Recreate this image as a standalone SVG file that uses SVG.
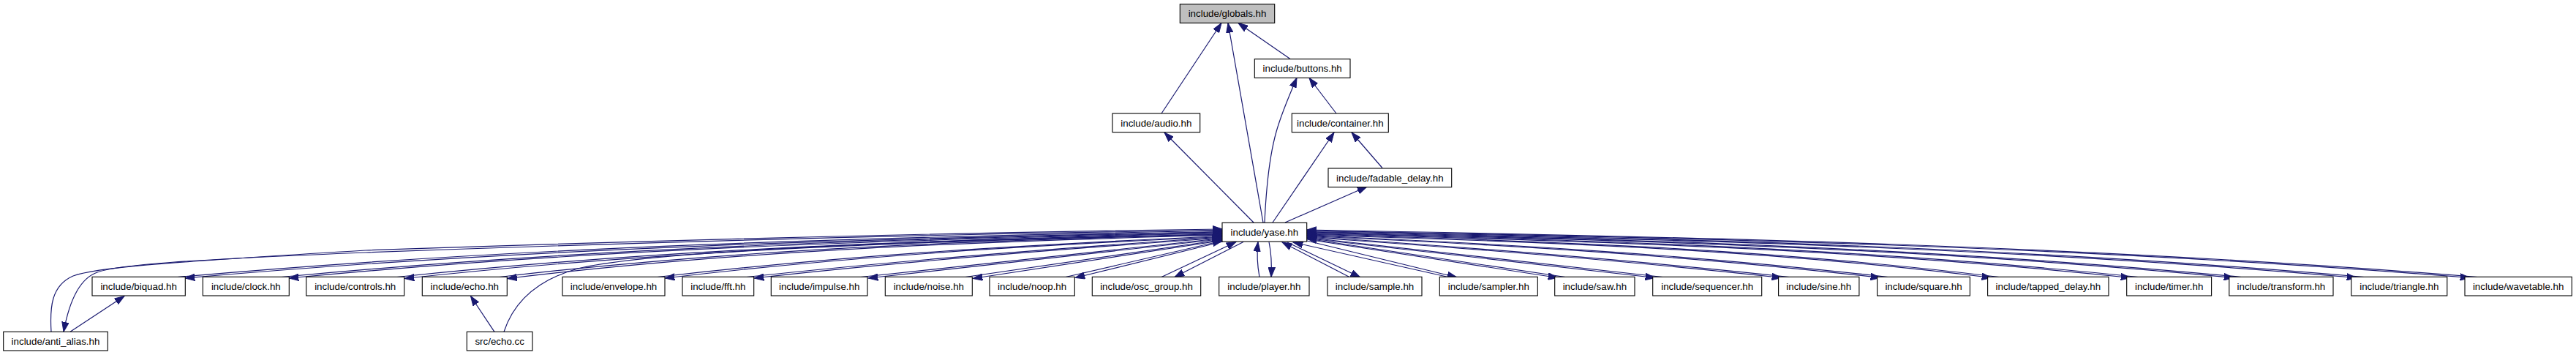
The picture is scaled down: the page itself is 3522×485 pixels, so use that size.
<svg xmlns="http://www.w3.org/2000/svg" width="3522" height="485" viewBox="0 0 3522 485">
<style>
.node rect{fill:#ffffff;stroke:#000000;stroke-width:1.1}
.node.base rect{fill:#bfbfbf}
.node text{font-family:"Liberation Sans",Arial,sans-serif;font-size:13.33px;fill:#000000;text-anchor:middle}
#edges path{fill:none;stroke:#191970;stroke-width:1.2;marker-end:url(#arr)}
</style>
<defs>
<marker id="arr" markerUnits="userSpaceOnUse" viewBox="0 0 14 10" refX="13.3" refY="5" markerWidth="14" markerHeight="10" orient="auto">
<path d="M0,0.3 L13.3,5 L0,9.7 z" fill="#191970" stroke="#191970" stroke-width="1"/>
</marker>
</defs>
<rect x="0" y="0" width="3522" height="485" fill="#ffffff"/>
<g id="edges">
<path d="M1588,155 L1670,31.5"/>
<path d="M1727,304 L1679,31.5"/>
<path d="M1764,80.5 L1693,31.5"/>
<path d="M1729,304 C1731,260 1735,215 1745,180 C1752,155 1762,132 1773,106.5"/>
<path d="M1827,155 L1790,106.5"/>
<path d="M1714,304 L1592,181"/>
<path d="M1740,304 L1824,181"/>
<path d="M1890,229.5 L1848,181"/>
<path d="M1757,304 L1869,255"/>
<path d="M70,453.3 C68,420 70,390 100,377 C130,366 200,360 500,342 C900,328 1300,318 1671,313"/>
<path d="M1671,314.5 C1300,319.5 900,330 500,345 C250,355 160,362 133,372 C110,380 95,410 87,453.3"/>
<path d="M96,453.3 L170,404.5"/>
<path d="M1671,316.5 C1198,326 726,338 253,380"/>
<path d="M243,378.5 C719,336 1195,324.5 1671,315"/>
<path d="M1671,318 C1246,327 820,339 395,380"/>
<path d="M385,378.5 C814,337.5 1242,326 1671,317"/>
<path d="M1671,319.5 C1298,328.7 926,339.8 553,380.5"/>
<path d="M543,378.5 C919,338.5 1295,327.5 1671,318.5"/>
<path d="M1671,321 C1345,330 1019,341 693.5,380.5"/>
<path d="M683,378.5 C1012,339.5 1342,328.8 1671,320"/>
<path d="M676,453.3 L643.5,404.5"/>
<path d="M689,453.3 C700,420 725,385 790,367 C880,345 1250,326 1671,321.5"/>
<path d="M1671,323.5 C1417,334.8 1163,349.9 909,380"/>
<path d="M899,378.5 C1156,348.6 1414,333.7 1671,322.5"/>
<path d="M1671,325 C1458,339.7 1244,356.2 1031,380"/>
<path d="M1021,378.5 C1238,354.9 1454,338.5 1671,324"/>
<path d="M1671,326.5 L1187,380"/>
<path d="M1177,378.5 L1671,325.5"/>
<path d="M1671,328.5 L1330,380.5"/>
<path d="M1320,378.5 L1671,327.5"/>
<path d="M1672,330 L1470,379.5"/>
<path d="M1457,378.5 L1671,329"/>
<path d="M1588,378.5 L1690,330.5"/>
<path d="M1700,330.5 L1606,378.5"/>
<path d="M1722,378.5 C1719,362 1718,348 1720,330.5"/>
<path d="M1735,330.5 C1738,345 1739,360 1738,378.5"/>
<path d="M1845,378.5 L1753,331"/>
<path d="M1760,331 L1860,379"/>
<path d="M1980,378.5 L1768,331"/>
<path d="M1787,329 L1992,379"/>
<path d="M1787,327 L2130,379.5"/>
<path d="M2140,378.5 L1787,326"/>
<path d="M1787,325.5 L2263,379.5"/>
<path d="M2273,378.5 L1787,324.5"/>
<path d="M1787,324 C2003,338.8 2220,355.5 2436,379.5"/>
<path d="M2446,378.5 C2226,354.5 2007,337.8 1787,323"/>
<path d="M1787,322.5 C2048,333.9 2310,349.1 2571,379.5"/>
<path d="M2581,378.5 C2316,348.1 2052,332.9 1787,321.5"/>
<path d="M1787,321 C2099,329.8 2411,340.5 2723,379.5"/>
<path d="M2733,378.5 C2418,339.5 2102,328.8 1787,320"/>
<path d="M1787,319.5 C2162,328.5 2538,339.5 2913,379.5"/>
<path d="M2923,378.5 C2544,338.5 2166,327.5 1787,318.5"/>
<path d="M1787,318 C2209,327.2 2632,338.5 3054,379.5"/>
<path d="M3064,378.5 C2638,337.5 2213,326.2 1787,317"/>
<path d="M1787,316.5 C2265,326 2744,337.5 3222,379.5"/>
<path d="M3232,378.5 C2750,336.5 2269,325 1787,315.5"/>
<path d="M1787,315 C2317,324.7 2847,336.5 3377,379.5"/>
<path d="M3387,378.5 C2854,335.5 2320,323.7 1787,314"/>
</g>
<g id="node-globals" class="node base"><rect x="1613.3" y="5.7" width="129.4" height="25.7"/><text x="1678" y="23.2">include/globals.hh</text></g>
<g id="node-buttons" class="node"><rect x="1715.3" y="80.7" width="130.7" height="25.7"/><text x="1780.65" y="98.2">include/buttons.hh</text></g>
<g id="node-audio" class="node"><rect x="1521" y="155" width="119.7" height="25.7"/><text x="1580.85" y="172.5">include/audio.hh</text></g>
<g id="node-container" class="node"><rect x="1766.3" y="155" width="132" height="25.7"/><text x="1832.3" y="172.5">include/container.hh</text></g>
<g id="node-fadable_delay" class="node"><rect x="1816" y="230" width="168.7" height="25.7"/><text x="1900.35" y="247.5">include/fadable_delay.hh</text></g>
<g id="node-yase" class="node"><rect x="1671" y="304.3" width="115.7" height="25.7"/><text x="1728.85" y="321.8">include/yase.hh</text></g>
<g id="node-anti_alias" class="node"><rect x="4.7" y="453.3" width="142.6" height="25.7"/><text x="76" y="470.8">include/anti_alias.hh</text></g>
<g id="node-biquad" class="node"><rect x="126" y="378.3" width="127.3" height="25.7"/><text x="189.65" y="395.8">include/biquad.hh</text></g>
<g id="node-clock" class="node"><rect x="277.3" y="378.3" width="118" height="25.7"/><text x="336.3" y="395.8">include/clock.hh</text></g>
<g id="node-controls" class="node"><rect x="418.7" y="378.3" width="134" height="25.7"/><text x="485.7" y="395.8">include/controls.hh</text></g>
<g id="node-echo_hh" class="node"><rect x="577.3" y="378.3" width="116" height="25.7"/><text x="635.3" y="395.8">include/echo.hh</text></g>
<g id="node-echo_cc" class="node"><rect x="638.3" y="453.3" width="89.7" height="25.7"/><text x="683.15" y="470.8">src/echo.cc</text></g>
<g id="node-envelope" class="node"><rect x="769" y="378.3" width="140" height="25.7"/><text x="839" y="395.8">include/envelope.hh</text></g>
<g id="node-fft" class="node"><rect x="933" y="378.3" width="97.7" height="25.7"/><text x="981.85" y="395.8">include/fft.hh</text></g>
<g id="node-impulse" class="node"><rect x="1054.3" y="378.3" width="131.7" height="25.7"/><text x="1120.15" y="395.8">include/impulse.hh</text></g>
<g id="node-noise" class="node"><rect x="1210.3" y="378.3" width="119" height="25.7"/><text x="1269.8" y="395.8">include/noise.hh</text></g>
<g id="node-noop" class="node"><rect x="1353" y="378.3" width="116.3" height="25.7"/><text x="1411.15" y="395.8">include/noop.hh</text></g>
<g id="node-osc_group" class="node"><rect x="1493.3" y="378.3" width="148.4" height="25.7"/><text x="1567.5" y="395.8">include/osc_group.hh</text></g>
<g id="node-player" class="node"><rect x="1666.7" y="378.3" width="123.3" height="25.7"/><text x="1728.35" y="395.8">include/player.hh</text></g>
<g id="node-sample" class="node"><rect x="1815" y="378.3" width="129" height="25.7"/><text x="1879.5" y="395.8">include/sample.hh</text></g>
<g id="node-sampler" class="node"><rect x="1968.3" y="378.3" width="134" height="25.7"/><text x="2035.3" y="395.8">include/sampler.hh</text></g>
<g id="node-saw" class="node"><rect x="2125.7" y="378.3" width="109.3" height="25.7"/><text x="2180.35" y="395.8">include/saw.hh</text></g>
<g id="node-sequencer" class="node"><rect x="2259.7" y="378.3" width="149" height="25.7"/><text x="2334.2" y="395.8">include/sequencer.hh</text></g>
<g id="node-sine" class="node"><rect x="2431.6" y="378.3" width="110.3" height="25.7"/><text x="2486.75" y="395.8">include/sine.hh</text></g>
<g id="node-square" class="node"><rect x="2566.6" y="378.3" width="126.8" height="25.7"/><text x="2630" y="395.8">include/square.hh</text></g>
<g id="node-tapped_delay" class="node"><rect x="2717.6" y="378.3" width="165.4" height="25.7"/><text x="2800.3" y="395.8">include/tapped_delay.hh</text></g>
<g id="node-timer" class="node"><rect x="2907.7" y="378.3" width="115.9" height="25.7"/><text x="2965.65" y="395.8">include/timer.hh</text></g>
<g id="node-transform" class="node"><rect x="3047.8" y="378.3" width="142.2" height="25.7"/><text x="3118.9" y="395.8">include/transform.hh</text></g>
<g id="node-triangle" class="node"><rect x="3214.8" y="378.3" width="131" height="25.7"/><text x="3280.3" y="395.8">include/triangle.hh</text></g>
<g id="node-wavetable" class="node"><rect x="3370" y="378.3" width="146.3" height="25.7"/><text x="3443.15" y="395.8">include/wavetable.hh</text></g>
</svg>
